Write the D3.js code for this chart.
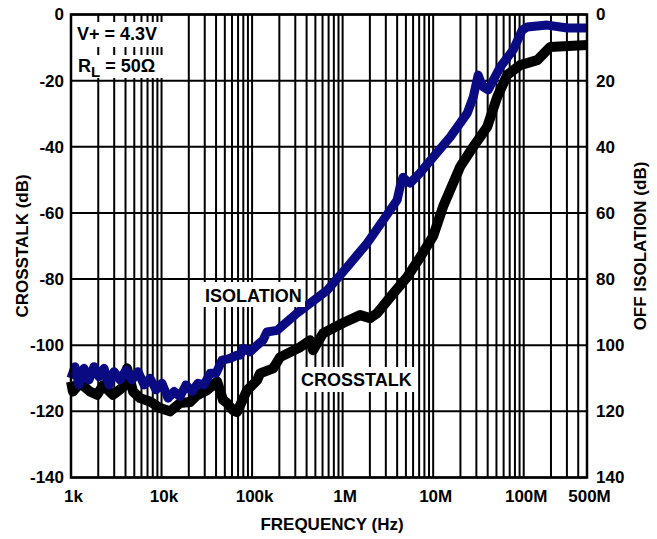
<!DOCTYPE html>
<html>
<head>
<meta charset="utf-8">
<script src="https://cdn.jsdelivr.net/npm/d3@7"></script>
<style>
  body { margin: 0; background: #fff; }
  text { font-family: "Liberation Sans", Arial, sans-serif; font-weight: bold; fill: #000; }
</style>
</head>
<body>
<div id="chart-area"></div>
<script>
// frequency in Hz, level in dB
var isoFreq = [1e3, 1.107e3, 1.226e3, 1.392e3, 1.58e3, 1.796e3, 2.039e3, 2.315e3, 2.63e3, 2.99e3, 3.48e3, 4.05e3, 4.72e3,
  5.5e3, 6.41e3, 7.46e3, 8.7e3, 10.1e3, 11.8e3, 13.75e3, 16e3, 18.65e3, 21.7e3, 25.3e3, 29.5e3, 34.4e3, 40e3, 46.6e3,
  52.9e3, 57.1e3, 68.3e3, 73.7e3, 79.6e3, 88.1e3, 95e3, 113.6e3, 132e3, 146e3, 189e3, 314e3, 674e3, 1.12e6, 1.87e6,
  2.8e6, 4.0e6, 4.32e6, 4.66e6, 5.16e6, 5.57e6, 7.18e6, 10e6, 15.4e6, 23.8e6, 27.7e6, 31.4e6, 33.1e6, 35.7e6, 40.5e6,
  55e6, 76.6e6, 96.2e6, 109e6, 182e6, 303e6, 500e6];
var isoDb = [-110, -106.5, -112, -107, -110.5, -106.5, -109.5, -107, -112, -108, -110.5, -107.5, -110.5,
  -108, -112, -110, -113.5, -111.5, -116, -114, -115.5, -112, -114, -111.5, -112, -108.5, -108.5, -104.5,
  -104.2, -104, -103.0, -103, -101, -101.5, -102, -100, -98.5, -96, -95.5, -90.3, -83.4, -76.4, -69.1,
  -62.2, -56.1, -52, -49.2, -50.5, -51, -47.9, -43.1, -37.1, -29.8, -25, -18.3, -20, -21.9, -22.8,
  -15.9, -10.7, -4.7, -3.8, -3.2, -4.1, -4.1];

var xtFreq = [1e3, 1.05e3, 1.26e3, 1.62e3, 1.94e3, 2.26e3, 2.91e3, 3.75e3, 4.16e3, 4.84e3, 5.79e3, 7.46e3, 9.62e3, 12.4e3,
  16e3, 20.6e3, 24.7e3, 31.8e3, 41.1e3, 47.8e3, 52.9e3, 61.7e3, 68.3e3, 73.7e3, 88.1e3, 113.6e3, 122.6e3, 171e3, 204e3,
  339e3, 437e3, 472e3, 609e3, 1.01e6, 1.56e6, 2.01e6, 2.41e6, 3.35e6, 5.16e6, 7.18e6, 10e6, 12.9e6, 19.9e6, 27.7e6,
  39.5e6, 50.9e6, 65.7e6, 91.5e6, 141e6, 196e6, 500e6];
var xtDb = [-111, -114, -111.5, -114, -115, -112.1, -115, -112.7, -107, -114, -116, -117, -119, -120,
  -117.5, -117.2, -115.1, -113.6, -111, -116.6, -117.5, -119.7, -120.2, -118.2, -113.6, -110.6, -108.5, -107, -103.6,
  -100.6, -98.5, -101.5, -96.4, -93.3, -90.9, -91.8, -90.3, -85.5, -79.4, -73.4, -67, -58, -46, -40,
  -34, -25, -18.3, -15.3, -13.8, -9.8, -9.2];

var xTicks = [1e3, 1e4, 1e5, 1e6, 1e7, 1e8, 5e8];
var xTickLabels = ["1k", "10k", "100k", "1M", "10M", "100M", "500M"];
var yTicks = [0, -20, -40, -60, -80, -100, -120, -140];
var yRightLabels = ["0", "20", "40", "60", "80", "100", "120", "140"];

var W = 657, H = 539;
var pLeft = 71, pRight = 587, pTop = 14.5, pBottom = 477.5;

var svg = d3.select("#chart-area").append("svg")
    .attr("width", W)
    .attr("height", H);

var x = d3.scaleLog().domain([1e3, 5e8]).range([pLeft, pRight]);
var y = d3.scaleLinear().domain([-140, 0]).range([pBottom, pTop]);

// vertical grid: 1..9 per decade
var gridF = [];
for (var d = 1e3; d < 5e8; d *= 10) {
    for (var m = 1; m <= 9; m++) {
        if (d * m < 5e8) gridF.push(d * m);
    }
}
svg.append("g").selectAll("line")
    .data(gridF)
    .enter().append("line")
    .attr("x1", function(f) { return x(f); })
    .attr("x2", function(f) { return x(f); })
    .attr("y1", pTop).attr("y2", pBottom)
    .attr("stroke", "#000").attr("stroke-width", 2);

svg.append("g").selectAll("line")
    .data(yTicks)
    .enter().append("line")
    .attr("x1", pLeft).attr("x2", pRight)
    .attr("y1", function(v) { return y(v); })
    .attr("y2", function(v) { return y(v); })
    .attr("stroke", "#000").attr("stroke-width", 2);

// curves
var line = d3.line()
    .x(function(p) { return x(p[0]); })
    .y(function(p) { return y(p[1]); });

svg.append("path")
    .datum(d3.zip(xtFreq, xtDb))
    .attr("d", line)
    .attr("fill", "none")
    .attr("stroke", "#000")
    .attr("stroke-width", 10)
    .attr("stroke-linejoin", "round");

svg.append("path")
    .datum(d3.zip(isoFreq, isoDb))
    .attr("d", line)
    .attr("fill", "none")
    .attr("stroke", "#0a0a82")
    .attr("stroke-width", 9)
    .attr("stroke-linejoin", "round");

// white label boxes
svg.append("rect").attr("x", pLeft + 1).attr("y", 22).attr("width", 100).attr("height", 25).attr("fill", "#fff");
svg.append("rect").attr("x", pLeft + 1).attr("y", 55).attr("width", 100).attr("height", 23).attr("fill", "#fff");
svg.append("rect").attr("x", 201).attr("y", 282).attr("width", 104).attr("height", 25).attr("fill", "#fff");
svg.append("rect").attr("x", 298).attr("y", 367).attr("width", 120).attr("height", 25).attr("fill", "#fff");

svg.append("text").attr("x", 77).attr("y", 40).style("font-size", "18px").text("V+ = 4.3V");
var rl = svg.append("text").attr("x", 78).attr("y", 72).style("font-size", "18px");
rl.append("tspan").text("R");
rl.append("tspan").attr("dy", 5).style("font-size", "15px").text("L");
rl.append("tspan").attr("dy", -5).text(" = 50\u03A9");

svg.append("text").attr("x", 205).attr("y", 302).style("font-size", "18px").text("ISOLATION");
svg.append("text").attr("x", 301).attr("y", 386).style("font-size", "18px").text("CROSSTALK");

// border
svg.append("rect")
    .attr("x", pLeft).attr("y", pTop)
    .attr("width", pRight - pLeft).attr("height", pBottom - pTop)
    .attr("fill", "none").attr("stroke", "#000").attr("stroke-width", 2.5);

// axes (labels only)
var xAxis = svg.append("g")
    .attr("transform", "translate(0," + pBottom + ")")
    .call(d3.axisBottom(x).tickValues(xTicks).tickSize(0).tickPadding(12)
        .tickFormat(function(v, i) { return xTickLabels[i]; }));
xAxis.select(".domain").remove();
xAxis.selectAll("text").style("font-size", "17px").attr("dx", 2);

var yAxis = svg.append("g")
    .attr("transform", "translate(" + pLeft + ",0)")
    .call(d3.axisLeft(y).tickValues(yTicks).tickSize(0).tickPadding(7)
        .tickFormat(function(v) { return v; }));
yAxis.select(".domain").remove();
yAxis.selectAll("text").style("font-size", "17px");

var yAxisR = svg.append("g")
    .attr("transform", "translate(" + pRight + ",0)")
    .call(d3.axisRight(y).tickValues(yTicks).tickSize(0).tickPadding(9)
        .tickFormat(function(v, i) { return yRightLabels[i]; }));
yAxisR.select(".domain").remove();
yAxisR.selectAll("text").style("font-size", "17px");

svg.selectAll(".tick text").style("font-family", "'Liberation Sans', Arial, sans-serif").style("font-weight", "bold").attr("fill", "#000");

// titles
svg.append("text").attr("x", 332).attr("y", 530).attr("text-anchor", "middle").style("font-size", "17px").text("FREQUENCY (Hz)");
svg.append("text").attr("transform", "translate(28,246) rotate(-90)").attr("text-anchor", "middle").style("font-size", "17px").text("CROSSTALK (dB)");
svg.append("text").attr("transform", "translate(646,246) rotate(-90)").attr("text-anchor", "middle").style("font-size", "17px").text("OFF ISOLATION (dB)");
</script>
</body>
</html>
